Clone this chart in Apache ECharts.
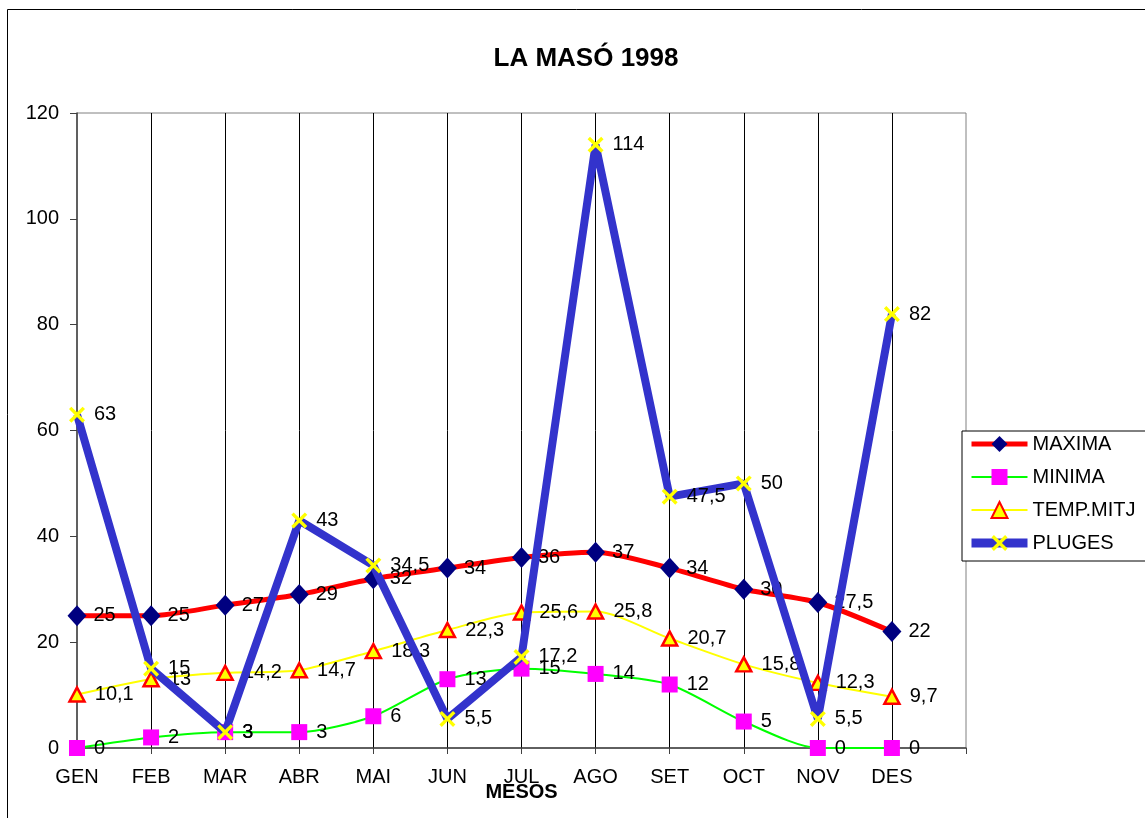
<!DOCTYPE html>
<html>
<head>
<meta charset="utf-8">
<script src="https://cdn.jsdelivr.net/npm/echarts@6/dist/echarts.min.js"></script>
<style>html,body{margin:0;padding:0;background:#fff;}#c{width:1145px;height:818px;}</style>
</head>
<body>
<div id="c"></div>
<script>
const months = ['GEN','FEB','MAR','ABR','MAI','JUN','JUL','AGO','SET','OCT','NOV','DES',''];
const maxima = [25,25,27,29,32,34,36,37,34,30,27.5,22];
const minima = [0,2,3,3,6,13,15,14,12,5,0,0];
const tempMitj = [10.1,13,14.2,14.7,18.3,22.3,25.6,25.8,20.7,15.8,12.3,9.7];
const pluges = [63,15,3,43,34.5,5.5,17.2,114,47.5,50,5.5,82];
const yTicks = [0,20,40,60,80,100,120];

const FONT = 'Liberation Sans, Arial, sans-serif';
const xPath = 'path://M0,1.5L1.5,0L5,3.5L8.5,0L10,1.5L6.5,5L10,8.5L8.5,10L5,6.5L1.5,10L0,8.5L3.5,5Z';
function lab(dist) {
  return {
    show: true, position: 'right', distance: dist, color: '#000', fontSize: 20, fontFamily: FONT,
    formatter: p => String(p.value).replace('.', ',')
  };
}

const chart = echarts.init(document.getElementById('c'), null, {renderer: 'canvas'});
chart.setOption({
  animation: false,
  backgroundColor: '#fff',
  title: {
    text: 'LA MASÓ 1998', left: 581, top: 41, textAlign: 'center',
    textStyle: {fontFamily: FONT, fontSize: 26, fontWeight: 'bold', color: '#000'}
  },
  graphic: [{
    type: 'rect', shape: {x: 7.5, y: 9.5, width: 1200, height: 900},
    style: {fill: 'none', stroke: '#000', lineWidth: 1}, z: -10
  }],
  grid: {left: 77, top: 113, right: 179, bottom: 70, show: true, borderColor: '#808080', borderWidth: 1, backgroundColor: 'transparent'},
  legend: {
    orient: 'vertical', left: 962, top: 431,
    backgroundColor: '#fff', borderColor: '#000', borderWidth: 1,
    padding: [3, 40, 8, 5], itemWidth: 56, itemHeight: 20, itemGap: 13,
    textStyle: {fontFamily: FONT, fontSize: 20, color: '#000'},
    data: [
      {name: 'MAXIMA', lineStyle: {width: 5}},
      {name: 'MINIMA', lineStyle: {width: 2}},
      {name: 'TEMP.MITJ', lineStyle: {width: 2}},
      {name: 'PLUGES', lineStyle: {width: 9}}
    ]
  },
  xAxis: {
    type: 'category', data: months, boundaryGap: false,
    name: 'MESOS', nameLocation: 'middle', nameGap: 34, nameMoveOverlap: false,
    nameTextStyle: {fontFamily: FONT, fontSize: 20, fontWeight: 'bold', color: '#000'},
    axisLine: {lineStyle: {color: '#404040', width: 1.5}},
    axisTick: {show: true, inside: false, length: 6, alignWithLabel: true, interval: 0, lineStyle: {color: '#404040'}},
    axisLabel: {interval: 0, fontFamily: FONT, fontSize: 20, color: '#000', margin: 19},
    splitLine: {show: true, interval: (i) => i > 0 && i < 12, lineStyle: {color: '#000', width: 1}}
  },
  yAxis: {
    type: 'value', min: 0, max: 120, interval: 20,
    axisLine: {show: true, lineStyle: {color: '#404040', width: 1.5}},
    axisTick: {show: true, length: 7, lineStyle: {color: '#404040'}},
    axisLabel: {fontFamily: FONT, fontSize: 20, color: '#000', margin: 18,
      formatter: v => yTicks.includes(v) ? String(v) : ''},
    splitLine: {show: false}
  },
  series: [
    {
      name: 'MAXIMA', type: 'line', data: maxima, smooth: 0.25,
      lineStyle: {color: '#FF0000', width: 5},
      symbol: 'diamond', symbolSize: [19, 21],
      itemStyle: {color: '#000080', borderWidth: 0},
      label: lab(7), z: 4
    },
    {
      name: 'MINIMA', type: 'line', data: minima, smooth: 0.25,
      lineStyle: {color: '#00FF00', width: 2},
      symbol: 'rect', symbolSize: 16,
      itemStyle: {color: '#FF00FF', borderWidth: 0},
      label: lab(9), z: 3
    },
    {
      name: 'TEMP.MITJ', type: 'line', data: tempMitj, smooth: 0.25,
      lineStyle: {color: '#FFFF00', width: 2},
      symbol: 'triangle', symbolSize: [15, 14],
      itemStyle: {color: '#FFFF00', borderColor: '#FF0000', borderWidth: 2.5},
      label: lab(9), z: 3
    },
    {
      name: 'PLUGES', type: 'line', data: pluges, smooth: false,
      lineStyle: {color: '#3333CC', width: 8},
      symbol: xPath, symbolSize: 16,
      itemStyle: {color: '#FFFF00', borderWidth: 0},
      label: lab(9), z: 5
    }
  ]
});
</script>
</body>
</html>
